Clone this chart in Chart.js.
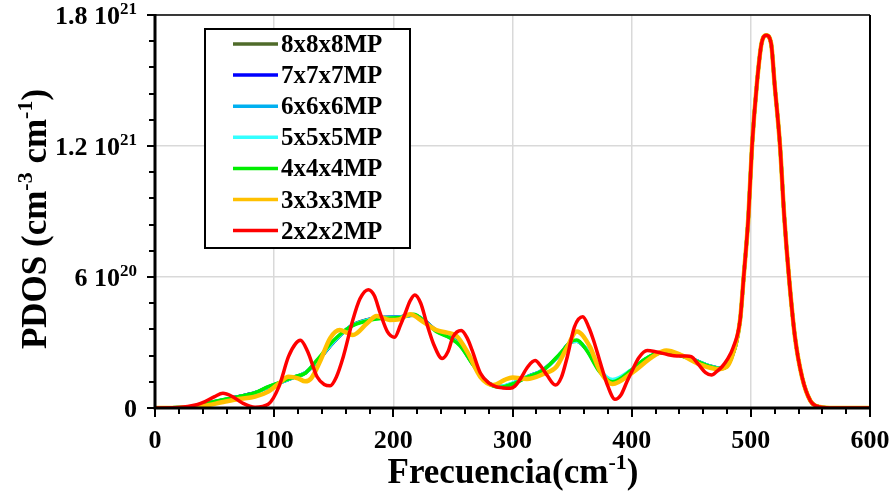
<!DOCTYPE html>
<html>
<head>
<meta charset="utf-8">
<script src="https://cdn.jsdelivr.net/npm/chart.js@4.4.1/dist/chart.umd.min.js"></script>
<style>
    body { margin: 0; background: #fff; }
    #wrap { width: 892px; height: 494px; }
</style>
</head>
<body>
<div id="wrap"><canvas id="pdosChart"></canvas></div>
<script>
// PDOS values in units of 1e20 cm-3 cm-1, frequency in cm-1
const seriesNames = ['8x8x8MP', '7x7x7MP', '6x6x6MP', '5x5x5MP', '4x4x4MP', '3x3x3MP', '2x2x2MP'];
const seriesColors = ['#4f6b2a', '#0000ff', '#00b0f0', '#33ffff', '#00ee00', '#ffc000', '#ff0000'];

// main peak, common to every mesh
const peakFreq = [491, 494, 498, 501, 505, 509, 513, 517, 520, 524.5, 528, 532, 537, 543, 550, 558, 570, 600];
const peakPdos = [4.03, 6.0, 8.8, 12.0, 14.8, 16.7, 17.07, 16.7, 14.8, 12.0, 8.8, 6.0, 3.27, 1.41, 0.33, 0.05, 0, 0];

// converged meshes (8x8x8 ... 4x4x4)
const freqConv = [0, 20, 28, 42, 56, 70, 84, 95, 106, 117, 126, 136, 150, 164, 178, 192, 206, 217, 225, 236,
    248, 256, 267, 278, 290, 300, 312, 326, 340, 349, 354, 362, 373, 384, 400, 410, 424, 438, 452, 466, 475, 483];
const pdos8 = [0, 0.02, 0.04, 0.19, 0.36, 0.52, 0.7, 0.96, 1.18, 1.42, 1.6, 2.12, 3.02, 3.74, 4.04, 4.15, 4.18, 4.25, 4.05, 3.55,
    3.24, 2.9, 2.0, 1.22, 0.98, 1.12, 1.42, 1.76, 2.46, 3.02, 3.06, 2.7, 1.74, 1.24, 1.74, 2.18, 2.52, 2.45, 2.22, 1.92, 1.82, 2.2];
const pdos7 = [0, 0.02, 0.04, 0.19, 0.36, 0.52, 0.7, 0.96, 1.18, 1.42, 1.6, 2.13, 3.03, 3.74, 4.03, 4.14, 4.17, 4.26, 4.05, 3.54,
    3.23, 2.89, 2.0, 1.22, 0.98, 1.12, 1.42, 1.76, 2.47, 3.03, 3.07, 2.69, 1.73, 1.24, 1.74, 2.18, 2.52, 2.45, 2.21, 1.92, 1.82, 2.2];
const pdos6 = [0, 0.02, 0.04, 0.19, 0.36, 0.51, 0.69, 0.96, 1.18, 1.42, 1.6, 2.14, 3.04, 3.73, 4.03, 4.14, 4.17, 4.26, 4.04, 3.54,
    3.22, 2.88, 1.99, 1.22, 0.98, 1.13, 1.42, 1.75, 2.47, 3.03, 3.08, 2.69, 1.72, 1.25, 1.74, 2.19, 2.52, 2.45, 2.21, 1.91, 1.81, 2.2];
const pdos5 = [0, 0.02, 0.04, 0.19, 0.36, 0.51, 0.69, 0.97, 1.19, 1.42, 1.6, 2.15, 3.05, 3.73, 4.02, 4.13, 4.16, 4.27, 4.04, 3.53,
    3.21, 2.87, 1.99, 1.23, 0.99, 1.14, 1.42, 1.75, 2.48, 3.02, 3.06, 2.72, 1.76, 1.3, 1.76, 2.19, 2.53, 2.45, 2.21, 1.91, 1.81, 2.2];
const pdos4 = [0, 0.02, 0.04, 0.2, 0.37, 0.52, 0.7, 0.98, 1.2, 1.43, 1.59, 2.2, 3.1, 3.72, 3.99, 4.11, 4.15, 4.29, 4.03, 3.5,
    3.19, 2.85, 1.97, 1.2, 0.95, 1.1, 1.4, 1.74, 2.5, 3.04, 3.11, 2.66, 1.66, 1.2, 1.74, 2.2, 2.53, 2.44, 2.2, 1.9, 1.8, 2.2];

// 3x3x3 mesh
const freq3 = [0, 20, 42, 56, 70, 84, 95, 104, 112, 120, 126, 131, 139, 147, 155, 161, 166, 178, 186, 197,
    205, 214, 225, 236, 245, 253, 262, 273, 284, 293, 300, 312, 326, 337, 346, 354, 365, 373, 384, 400,
    419, 429, 441, 458, 472, 480, 485];
const pdos3 = [0, 0.01, 0.1, 0.26, 0.41, 0.52, 0.75, 1.13, 1.43, 1.36, 1.22, 1.35, 2.2, 3.2, 3.57, 3.45, 3.34, 3.88, 4.21, 4.03,
    4.06, 4.29, 3.95, 3.57, 3.45, 3.3, 2.58, 1.43, 1.05, 1.28, 1.4, 1.33, 1.56, 1.9, 2.8, 3.5, 2.8, 1.74, 1.1, 1.6,
    2.4, 2.63, 2.44, 1.98, 1.78, 1.9, 2.5];

// 2x2x2 mesh
const freq2 = [0, 20, 35, 42, 50, 57, 65, 73, 84, 95, 104, 112, 118, 122, 128, 136, 142, 147, 152, 158,
    166, 172, 179, 184, 189, 195, 201, 206, 210, 214, 218, 223, 228, 234, 241, 246, 250, 257, 262, 266,
    273, 280, 286, 292, 298, 302, 306, 313, 319, 324, 329, 336, 341, 346, 352, 359, 364, 368, 373, 380,
    386, 391, 396, 400, 406, 413, 420, 430, 438, 446, 450, 456, 462, 467, 472, 476, 480, 485];
const pdos2 = [0, 0.02, 0.15, 0.29, 0.52, 0.67, 0.52, 0.24, 0.04, 0.17, 0.98, 2.35, 2.95, 3.1, 2.6, 1.43, 1.08, 1.02, 1.4, 2.35,
    4.03, 5.0, 5.42, 5.15, 4.34, 3.5, 3.24, 3.8, 4.34, 4.9, 5.18, 4.8, 3.88, 2.9, 2.27, 2.6, 3.25, 3.55, 3.2, 2.66,
    1.6, 1.15, 0.98, 0.92, 0.9, 1.0, 1.28, 1.9, 2.17, 1.9, 1.5, 1.05, 1.4, 2.35, 3.72, 4.18, 3.7, 3.1, 2.2, 1.0,
    0.4, 0.6, 1.2, 1.66, 2.3, 2.63, 2.58, 2.45, 2.38, 2.38, 2.35, 2.0, 1.62, 1.51, 1.7, 1.9, 2.2, 2.75];

const xTicks = [0, 100, 200, 300, 400, 500, 600];
const yTicks = [0, 6, 12, 18];
const yTickLabels = [['0', ''], ['6 10', '20'], ['1.2 10', '21'], ['1.8 10', '21']];

const seriesFreq = [freqConv, freqConv, freqConv, freqConv, freqConv, freq3, freq2];
const seriesPdos = [pdos8, pdos7, pdos6, pdos5, pdos4, pdos3, pdos2];

const FONT = '"Liberation Serif", "Times New Roman", serif';

function toPoints(freqs, vals) {
    const pts = freqs.map((f, i) => ({ x: f, y: vals[i] }));
    return pts.concat(peakFreq.map((f, i) => ({ x: f, y: peakPdos[i] })));
}

// text with superscript parts
function drawRich(ctx, parts, x, y, align, size) {
    const supSize = Math.round(size * 0.64);
    let total = 0;
    parts.forEach(p => {
        ctx.font = `bold ${p.sup ? supSize : size}px ${FONT}`;
        p.w = ctx.measureText(p.t).width;
        total += p.w;
    });
    let cx = align === 'right' ? x - total : align === 'center' ? x - total / 2 : x;
    ctx.textAlign = 'left';
    ctx.textBaseline = 'alphabetic';
    parts.forEach(p => {
        ctx.font = `bold ${p.sup ? supSize : size}px ${FONT}`;
        ctx.fillText(p.t, cx, p.sup ? y - size * 0.4 : y);
        cx += p.w;
    });
}

const decorPlugin = {
    id: 'decor',
    afterDraw(chart) {
        const ctx = chart.ctx;
        const { left, right, top, bottom } = chart.chartArea;
        const xs = chart.scales.x, ys = chart.scales.y;
        ctx.save();
        ctx.fillStyle = '#000';
        ctx.strokeStyle = '#000';

        // frame
        ctx.lineWidth = 1.5;
        ctx.beginPath();
        ctx.moveTo(left, top); ctx.lineTo(right, top);
        ctx.stroke();
        ctx.lineWidth = 2;
        ctx.beginPath();
        ctx.moveTo(right, top); ctx.lineTo(right, bottom);
        ctx.stroke();
        ctx.lineWidth = 3;
        ctx.beginPath();
        ctx.moveTo(left, top - 1); ctx.lineTo(left, bottom + 1.5);
        ctx.moveTo(left - 1.5, bottom); ctx.lineTo(right + 1, bottom);
        ctx.stroke();

        // ticks
        ctx.lineWidth = 2;
        ctx.beginPath();
        for (let v = 0; v <= 600; v += 20) {
            const px = Math.round(xs.getPixelForValue(v));
            ctx.moveTo(px, bottom);
            ctx.lineTo(px, bottom + (v % 100 === 0 ? 9 : 6));
        }
        for (let i = 0; i <= 15; i++) {
            const py = Math.round(ys.getPixelForValue(i * 1.2));
            ctx.moveTo(left, py);
            ctx.lineTo(left - (i % 5 === 0 ? 8 : 6), py);
        }
        ctx.stroke();

        // tick labels
        xTicks.forEach(v => {
            drawRich(ctx, [{ t: String(v) }], xs.getPixelForValue(v), 448, 'center', 26);
        });
        yTicks.forEach((v, i) => {
            const parts = [{ t: yTickLabels[i][0] }];
            if (yTickLabels[i][1]) parts.push({ t: yTickLabels[i][1], sup: true });
            drawRich(ctx, parts, 137, ys.getPixelForValue(v) + 9, 'right', 26);
        });

        // axis titles
        drawRich(ctx, [{ t: 'Frecuencia(cm' }, { t: '-1', sup: true }, { t: ')' }], 513, 483, 'center', 35);
        ctx.save();
        ctx.translate(46, 219);
        ctx.rotate(-Math.PI / 2);
        drawRich(ctx, [{ t: 'PDOS (cm' }, { t: '-3', sup: true }, { t: ' cm' }, { t: '-1', sup: true }, { t: ')' }], 0, 0, 'center', 35);
        ctx.restore();

        // legend
        ctx.fillStyle = '#fff';
        ctx.fillRect(205, 29, 205, 219);
        ctx.lineWidth = 2;
        ctx.strokeRect(205, 29, 205, 219);
        seriesNames.forEach((name, i) => {
            const ly = 44 + i * 31.1;
            ctx.strokeStyle = seriesColors[i];
            ctx.lineWidth = 3.5;
            ctx.beginPath();
            ctx.moveTo(233, ly);
            ctx.lineTo(278, ly);
            ctx.stroke();
            ctx.fillStyle = '#000';
            drawRich(ctx, [{ t: name }], 281, ly + 8, 'left', 25);
        });
        ctx.restore();
    }
};

const datasets = seriesNames.map((name, i) => ({
    label: name,
    data: toPoints(seriesFreq[i], seriesPdos[i]),
    borderColor: seriesColors[i],
    borderWidth: i === 5 ? 4.5 : 3.5,
    pointRadius: 0,
    fill: false,
    cubicInterpolationMode: 'monotone',
    order: seriesNames.length - 1 - i   // 2x2x2 on top
}));

new Chart(document.getElementById('pdosChart').getContext('2d'), {
    type: 'line',
    data: { datasets },
    options: {
        responsive: true,
        maintainAspectRatio: false,
        animation: false,
        devicePixelRatio: 1,
        layout: { padding: { top: 15, right: 22, left: 0, bottom: 0 } },
        plugins: {
            legend: { display: false },
            tooltip: { enabled: false }
        },
        scales: {
            x: {
                type: 'linear',
                min: 0,
                max: 600,
                ticks: { display: false, stepSize: 100 },
                grid: { color: '#d9d9d9', lineWidth: 1.5, drawTicks: false },
                border: { display: false },
                afterFit(scale) { scale.height = 86; }
            },
            y: {
                min: 0,
                max: 18,
                ticks: { display: false, stepSize: 6 },
                grid: { color: '#d9d9d9', lineWidth: 1.5, drawTicks: false },
                border: { display: false },
                afterFit(scale) { scale.width = 155; }
            }
        }
    },
    plugins: [decorPlugin]
});
</script>
</body>
</html>
